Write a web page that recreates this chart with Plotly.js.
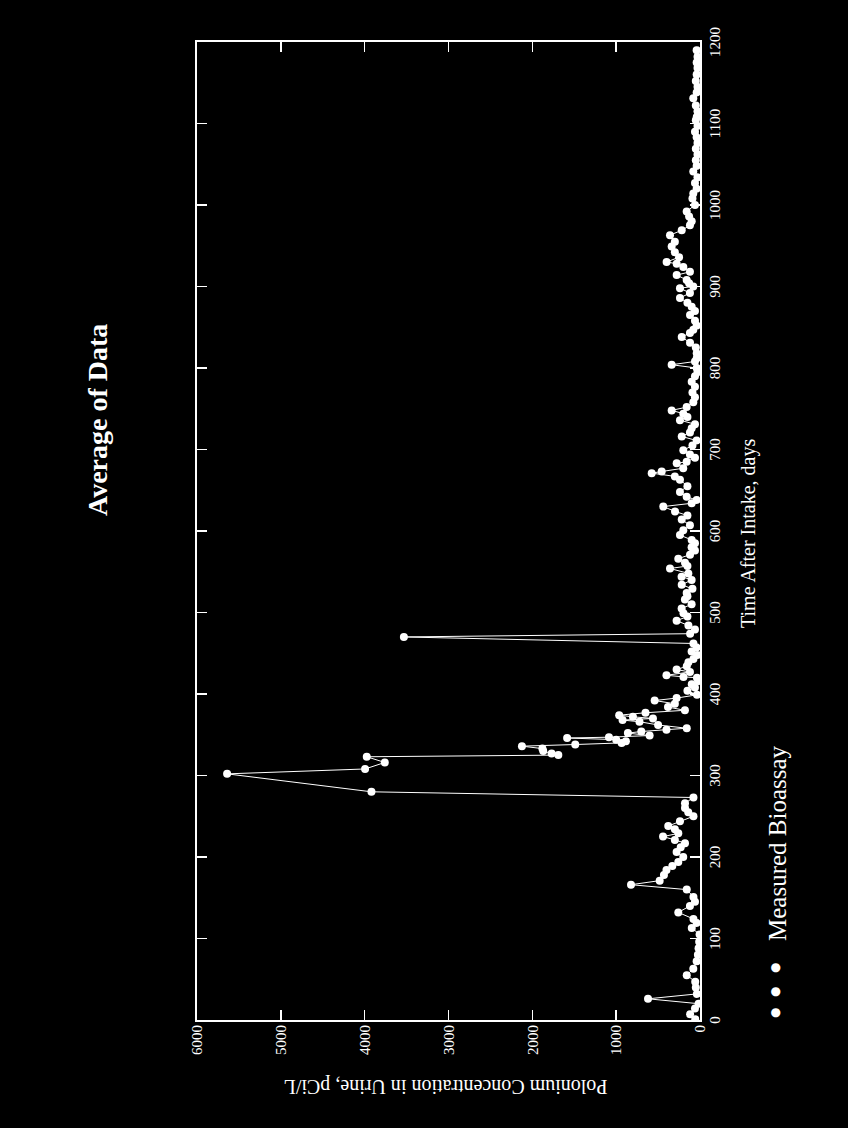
<!DOCTYPE html>
<html>
<head>
<meta charset="utf-8">
<script src="https://cdn.plot.ly/plotly-3.0.1.min.js"></script>
<style>
html,body{margin:0;padding:0;background:#000;width:848px;height:1128px;overflow:hidden;}
#wrap{position:absolute;left:0;top:0;width:1128px;height:848px;transform-origin:0 0;transform:translate(0,1128px) rotate(-90deg);}
#chart{width:1128px;height:848px;}
</style>
</head>
<body>
<div id="wrap"><div id="chart"></div></div>
<script>
// Time after intake (days)
const days = [
1,7,14,20,26,32,40,47,55,63,72,80,88,96,105,113,119,124,132,140,145,151,160,166,171,178,184,189,194,200,
206,212,217,221,225,229,234,238,244,250,255,260,266,273,280,302,308,316,323,325,327,330,333,336,338,340,342,344,346,347,
349,352,354,356,358,362,366,368,370,372,374,377,380,384,388,392,395,399,404,408,412,416,420,421,423,427,430,434,439,443,
448,452,457,462,470,474,479,484,490,495,499,505,510,516,520,524,529,534,540,544,548,554,557,561,566,571,576,580,585,589,
595,601,607,614,619,624,630,634,638,642,648,655,663,667,671,673,677,683,685,690,694,699,705,711,716,721,726,731,736,740,
744,748,752,758,764,770,777,783,790,795,800,804,808,812,818,825,831,838,843,847,852,858,865,870,875,880,886,892,898,900,
904,908,914,918,924,928,930,936,942,949,955,963,969,975,980,986,992,1000,1008,1014,1020,1027,1034,1041,1048,1055,1062,1069,1076,1083,
1090,1097,1104,1108,1115,1122,1131,1138,1145,1152,1160,1168,1175,1182,1190
];
// Polonium concentration in urine (pCi/L)
const conc = [
57,118,60,17,620,37,50,57,158,80,40,25,17,10,5,98,40,78,259,120,60,78,158,823,481,430,400,330,259,200,
279,230,179,300,441,259,300,379,239,78,140,179,179,78,3919,5641,3995,3760,3975,1690,1770,1870,1880,2124,1488,935,884,1000,1585,1086,
601,860,700,400,158,500,722,924,561,800,964,650,180,382,300,541,279,36,150,60,98,20,36,197,400,120,279,158,138,78,
30,100,40,78,3532,118,60,138,279,150,197,219,100,180,150,159,90,218,100,220,139,358,150,179,259,119,60,100,60,99,
239,199,120,218,150,298,438,99,40,159,239,150,239,300,576,457,200,278,159,60,120,199,90,40,218,120,99,60,239,150,
199,338,159,80,60,90,60,99,60,30,39,338,60,39,39,50,119,218,120,80,40,60,119,60,99,150,239,120,239,80,
130,159,278,120,199,278,398,250,300,338,300,358,218,120,99,130,159,60,90,80,40,60,30,80,40,50,30,50,30,40,
60,30,50,39,30,50,80,40,30,50,40,30,40,30,40
];
const xTicks = [0,100,200,300,400,500,600,700,800,900,1000,1100,1200];
const yTicks = [0,1000,2000,3000,4000,5000,6000];

const FONT = 'Liberation Serif, Times New Roman, serif';
const axisCommon = {
  showline:true, linecolor:'#fff', linewidth:2, mirror:'ticks',
  ticks:'inside', ticklen:10, tickwidth:1.5, tickcolor:'#fff',
  showgrid:false, zeroline:false,
  tickfont:{family:FONT, size:15, color:'#fff'}
};

const trace = {
  x: days, y: conc, type:'scatter', mode:'lines+markers',
  line:{color:'#fff', width:1},
  marker:{color:'#fff', size:8},
  showlegend:false, hoverinfo:'skip'
};

const layout = {
  width:1128, height:848,
  paper_bgcolor:'#000', plot_bgcolor:'#000',
  margin:{l:108, r:42, t:197, b:148},
  font:{family:FONT, color:'#fff'},
  xaxis: Object.assign({}, axisCommon, {range:[0,1200], tickvals:xTicks, ticktext:xTicks.map(String)}),
  yaxis: Object.assign({}, axisCommon, {range:[0,6000], tickvals:yTicks, ticktext:yTicks.map(String)}),
  annotations:[
    {text:'<b>Average of Data</b>', xref:'paper', yref:'paper', x:0.614, y:1.198, xanchor:'center', yanchor:'middle', showarrow:false, font:{family:FONT, size:28, color:'#fff'}},
    {text:'Time After Intake, days', xref:'paper', yref:'paper', x:0.497, y:-0.097, xanchor:'center', yanchor:'middle', showarrow:false, font:{family:FONT, size:20, color:'#fff'}},
    {text:'Polonium Concentration in Urine, pCi/L', xref:'paper', yref:'paper', x:-0.0685, y:0.506, xanchor:'center', yanchor:'middle', textangle:-90, showarrow:false, font:{family:FONT, size:20, color:'#fff'}},
    {text:'●', xref:'paper', yref:'paper', x:0.0072, y:-0.149, xanchor:'center', yanchor:'middle', showarrow:false, font:{family:'DejaVu Sans', size:12, color:'#fff'}},
    {text:'●', xref:'paper', yref:'paper', x:0.0286, y:-0.149, xanchor:'center', yanchor:'middle', showarrow:false, font:{family:'DejaVu Sans', size:12, color:'#fff'}},
    {text:'●', xref:'paper', yref:'paper', x:0.0532, y:-0.149, xanchor:'center', yanchor:'middle', showarrow:false, font:{family:'DejaVu Sans', size:12, color:'#fff'}},
    {text:'Measured Bioassay', xref:'paper', yref:'paper', x:0.0787, y:-0.155, xanchor:'left', yanchor:'middle', showarrow:false, font:{family:FONT, size:25, color:'#fff'}}
  ]
};

Plotly.newPlot('chart', [trace], layout, {displayModeBar:false, staticPlot:true});
</script>
</body>
</html>
